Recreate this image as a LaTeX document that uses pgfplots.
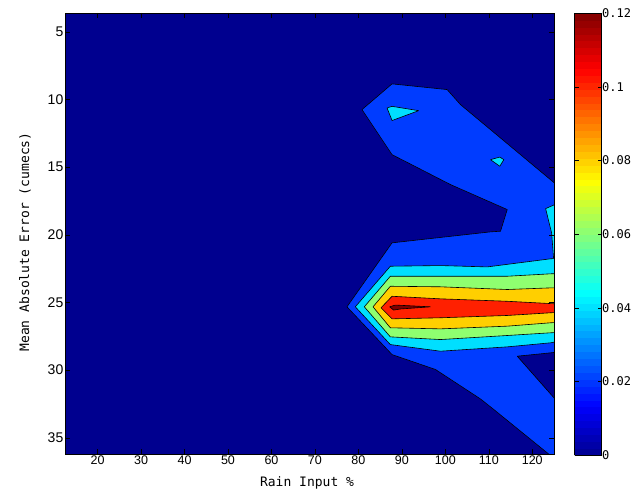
\documentclass[border=0pt]{standalone}
\usepackage{pgfplots}
\pgfplotsset{compat=1.18}
\usepackage{fontspec}
\setmainfont{Liberation Sans}
\newfontfamily\monofont{DejaVu Sans Mono}
\definecolor{c0}{RGB}{0,0,143}
\definecolor{c1}{RGB}{0,60,255}
\definecolor{c2}{RGB}{0,223,255}
\definecolor{c3}{RGB}{143,255,112}
\definecolor{c4}{RGB}{255,207,0}
\definecolor{c5}{RGB}{255,32,0}
\definecolor{c6}{RGB}{128,0,0}
\pgfplotsset{
  cf/.style={draw=black, line width=0.6pt, mark=none, line join=round},
  colormap={mjet}{rgb255(0pt)=(0,0,143) rgb255(7pt)=(0,0,255) rgb255(23pt)=(0,255,255) rgb255(39pt)=(255,255,0) rgb255(55pt)=(255,0,0) rgb255(63pt)=(128,0,0)}
}
\begin{document}
\begin{tikzpicture}
\useasboundingbox (-65pt,-44pt) rectangle (573pt,454pt);
\begin{axis}[
  at={(0,0)}, anchor=south west,
  scale only axis, width=489pt, height=441pt,
  xmin=12.5, xmax=125, ymin=3.6, ymax=36.2, y dir=reverse,
  xtick={20,30,...,120}, ytick={5,10,...,35},
  tick align=inside, tick pos=both, major tick length=5pt,
  tick style={black}, axis line style={black},
  axis on top,
  axis background/.style={fill=c0},
  /pgf/number format/assume math mode=true,
  xticklabel style={font=\fontsize{12.5}{12.5}\selectfont, inner sep=2pt},
  yticklabel style={font=\fontsize{14}{14}\selectfont, inner sep=1.5pt},
  xlabel={Rain Input \%},
  ylabel={Mean Absolute Error (cumecs)},
  x label style={font=\monofont\fontsize{13}{13}\selectfont, at={(axis description cs:0.495,-0.0658)}, anchor=center},
  y label style={font=\monofont\fontsize{13}{13}\selectfont, at={(axis description cs:-0.0818,0.4807)}, anchor=center},
  colorbar sampled,
  colormap name=mjet,
  point meta min=0, point meta max=0.12,
  colorbar style={
    scale only axis, width=27pt, height=442pt,
    at={(parent axis.north east)}, anchor=north west, xshift=12pt,
    samples=65,
    ytick={0,0.02,0.04,0.06,0.08,0.1,0.12},
    yticklabels={0,0.02,0.04,0.06,0.08,0.1,0.12},
    tick align=inside, tick pos=both, yticklabel pos=right,
    major tick length=4pt, tick style={black},
    yticklabel style={font=\monofont\fontsize{12}{12}\selectfont, inner sep=0.5pt},
  },
]
% level 0.02
\addplot[cf, fill=c1] coordinates {
(87.74,8.84) (100.41,9.26) (103.48,10.37) (125.5,16.27) (125.5,36.6) (125.3,36.6)
(111.15,32.91) (108.09,32.13) (97.72,29.95) (87.74,28.85) (77.37,25.32)
(87.74,20.59) (110.39,19.78) (112.70,19.73) (114.24,18.13) (101.17,16.28)
(87.74,14.07) (80.83,10.74) (87.74,8.84)};
% navy notch
\addplot[cf, fill=c0] coordinates {
(116.54,28.97) (125.5,28.68) (125.5,32.23) (116.54,28.97)};
% level 0.04 pieces
\addplot[cf, fill=c2] coordinates {
(86.59,10.62) (87.74,10.50) (93.87,10.82) (87.74,11.55) (86.59,10.62)};
\addplot[cf, fill=c2] coordinates {
(110.39,14.44) (112.53,14.25) (113.46,14.44) (112.53,14.93) (110.39,14.44)};
\addplot[cf, fill=c2] coordinates {
(123.07,18.06) (125.5,17.72) (125.5,21.75) (124.9,21.7) (124.45,19.85) (123.07,18.06)};
\addplot[cf, fill=c2] coordinates {
(125.5,21.74) (124.22,21.77) (109.63,22.37) (98.87,22.27) (87.35,22.32)
(79.29,25.32) (87.35,28.11) (98.87,28.60) (114.24,28.28) (124.22,27.98) (125.5,27.9)};
% level 0.06
\addplot[cf, fill=c3] coordinates {
(125.5,22.87) (124.22,22.88) (114.24,23.06) (98.87,23.06) (87.35,23.06)
(81.36,25.32) (87.35,27.54) (98.87,27.74) (114.24,27.44) (124.22,27.24) (125.5,27.22)};
% level 0.08
\addplot[cf, fill=c4] coordinates {
(125.5,23.92) (124.22,23.92) (114.24,24.04) (98.87,23.84) (87.35,23.80)
(83.36,25.32) (87.35,26.87) (98.87,26.95) (114.24,26.75) (124.22,26.50) (125.5,26.48)};
% level 0.10
\addplot[cf, fill=c5] coordinates {
(125.5,25.1) (124.22,25.08) (114.24,24.91) (98.87,24.73) (87.74,24.54)
(85.21,25.39) (87.74,26.21) (98.87,26.13) (114.24,25.96) (124.22,25.76) (125.5,25.74)};
% level 0.12
\addplot[cf, fill=c6] coordinates {
(87.19,25.32) (88.5,25.19) (96.57,25.32) (89.65,25.48) (88.11,25.56) (87.19,25.32)};
\end{axis}
\end{tikzpicture}
\end{document}
